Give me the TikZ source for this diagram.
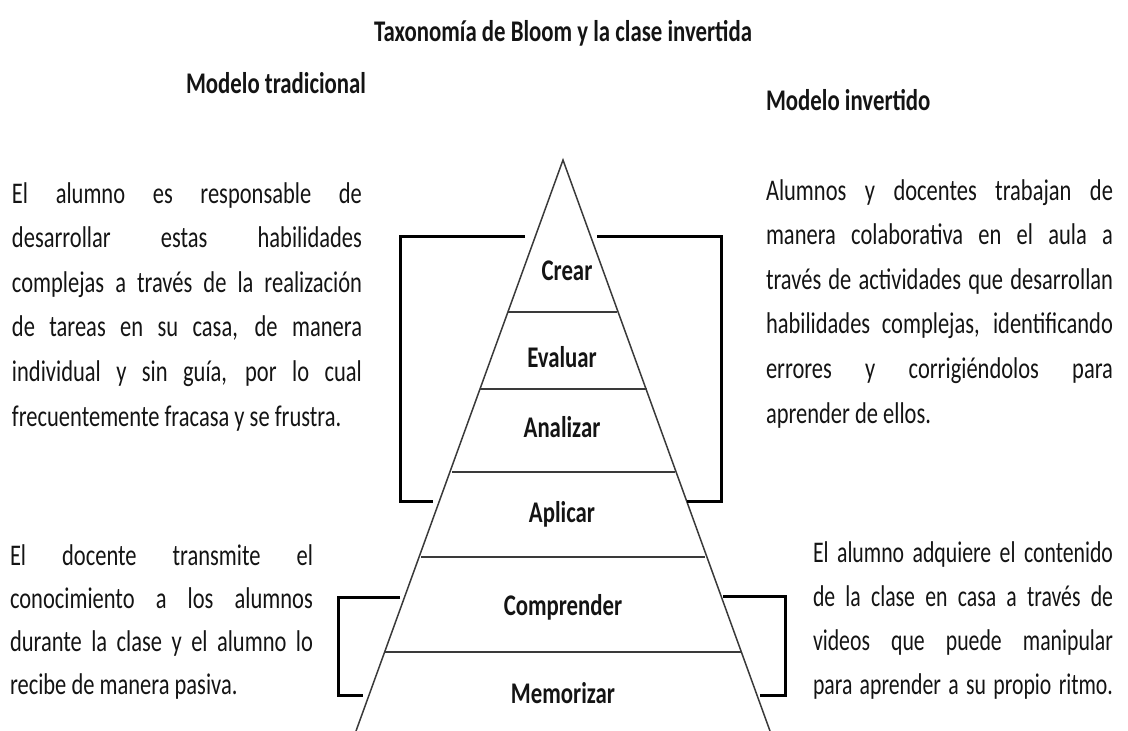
\documentclass[tikz,border=0pt]{standalone}
\usepackage{fontspec}
\setmainfont[FakeStretch=0.76]{Carlito}
\newfontfamily\parafont[FakeStretch=0.75]{Carlito}
\newfontfamily\narrowfont[FakeStretch=0.725]{Carlito}
\newcommand\jline[2]{\hbox to #1{\spaceskip=0pt\xspaceskip=0pt\relax #2}}
\newcommand\lline[2]{\hbox to #1{\spaceskip=0pt\xspaceskip=0pt\relax #2\hfil}}
\definecolor{ink}{HTML}{141414}
\definecolor{edge}{HTML}{3A3A3A}
\begin{document}
\begin{tikzpicture}[x=1pt,y=-1pt,
  every node/.style={inner sep=0pt, outer sep=0pt, text=ink},
  head/.style={font=\fontsize{30}{36}\selectfont\bfseries, anchor=base},
  level/.style={font=\fontsize{30}{36}\selectfont\bfseries, anchor=base},
  para/.style={anchor=base west, align=left},
  tri/.style={draw=edge, line width=1.5pt},
  brk/.style={draw=black, line width=3pt, line join=miter}]
\useasboundingbox (0,0) rectangle (1128,731);
% titles
\node[head] (title) at (563,41) {Taxonomía de Bloom y la clase invertida};
\node[head, anchor=base west] (trad) at (186,93) {Modelo tradicional};
\node[head, anchor=base west] (inv) at (766,110) {Modelo invertido};
% pyramid
\coordinate (apex) at (563,160);
\coordinate (bl) at (356,731);
\coordinate (br) at (770,731);
\draw[tri] (bl) -- (apex) -- (br);
\draw[tri] (508,312) -- (617,312);
\draw[tri] (480,389) -- (647,389);
\draw[tri] (452,472) -- (675,472);
\draw[tri] (421,557) -- (705,557);
\draw[tri] (385,652) -- (741,652);
% levels
\node[level] (crear) at (567,280) {Crear};
\node[level] (evaluar) at (562,367) {Evaluar};
\node[level] (analizar) at (562,437) {Analizar};
\node[level] (aplicar) at (562,522) {Aplicar};
\node[level] (comprender) at (563,615) {Comprender};
\node[level] (memorizar) at (563,703) {Memorizar};
% brackets
\draw[brk] (525,236) -- (400,236) -- (400,501) -- (433,501);
\draw[brk] (597,236) -- (721,236) -- (721,501) -- (687,501);
\draw[brk] (400,597) -- (338,597) -- (338,695) -- (363,695);
\draw[brk] (723,596) -- (785,596) -- (785,695) -- (760,695);
% paragraphs
\node[para, text width=350pt, font=\parafont\fontsize{30}{44.6}\selectfont] (lt) at (12,203) {%
\jline{350pt}{El alumno es responsable de}
\jline{350pt}{desarrollar estas habilidades}
\jline{350pt}{complejas a través de la realización}
\jline{350pt}{de tareas en su casa, de manera}
\jline{350pt}{individual y sin guía, por lo cual}
\lline{350pt}{frecuentemente fracasa y se frustra.}};
\node[para, text width=347pt, font=\parafont\fontsize{30}{44.6}\selectfont] (rt) at (766,200) {%
\jline{347pt}{Alumnos y docentes trabajan de}
\jline{347pt}{manera colaborativa en el aula a}
\jline{347pt}{través de actividades que desarrollan}
\jline{347pt}{habilidades complejas, identificando}
\jline{347pt}{errores y corrigiéndolos para}
\lline{347pt}{aprender de ellos.}};
\node[para, text width=303pt, font=\parafont\fontsize{30}{43.3}\selectfont] (lb) at (10,565) {%
\jline{303pt}{El docente transmite el}
\jline{303pt}{conocimiento a los alumnos}
\jline{303pt}{durante la clase y el alumno lo}
\lline{303pt}{recibe de manera pasiva.}};
\node[para, text width=300pt, font=\narrowfont\fontsize{30}{44}\selectfont] (rb) at (813,562) {%
\jline{300pt}{El alumno adquiere el contenido}
\jline{300pt}{de la clase en casa a través de}
\jline{300pt}{videos que puede manipular}
\jline{300pt}{para aprender a su propio ritmo.}};
\end{tikzpicture}
\end{document}
